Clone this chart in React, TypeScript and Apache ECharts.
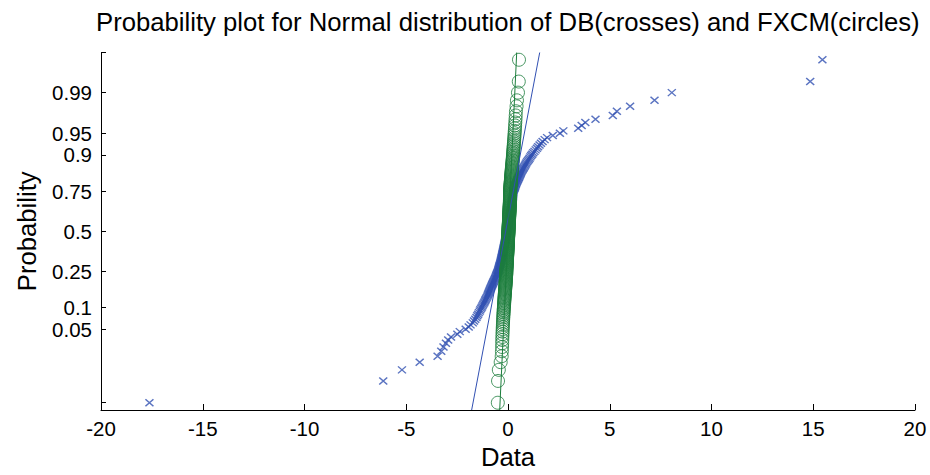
import React, { useEffect, useRef } from "react";
import * as echarts from "echarts";

// Sorted daily returns (%), one value per observation
const DB_SORTED = [
  -17.62, -6.13, -5.21, -4.34, -3.46, -3.28, -3.17, -3.05, -2.94, -2.8,
  -2.49, -2.37, -2.08, -1.93, -1.84, -1.73, -1.67, -1.61, -1.55, -1.51,
  -1.47, -1.43, -1.39, -1.36, -1.32, -1.28, -1.25, -1.22, -1.18, -1.15,
  -1.12, -1.1, -1.07, -1.04, -1.01, -0.99, -0.97, -0.95, -0.93, -0.91,
  -0.89, -0.87, -0.85, -0.83, -0.81, -0.79, -0.77, -0.75, -0.73, -0.71,
  -0.69, -0.67, -0.65, -0.63, -0.61, -0.6, -0.58, -0.57, -0.55, -0.54,
  -0.52, -0.51, -0.49, -0.48, -0.47, -0.46, -0.45, -0.44, -0.43, -0.42,
  -0.41, -0.4, -0.39, -0.38, -0.37, -0.36, -0.35, -0.345, -0.34, -0.33,
  -0.32, -0.315, -0.31, -0.3, -0.29, -0.285, -0.28, -0.27, -0.265, -0.26,
  -0.25, -0.245, -0.24, -0.23, -0.225, -0.22, -0.21, -0.205, -0.2, -0.19,
  -0.185, -0.18, -0.17, -0.165, -0.16, -0.155, -0.15, -0.14, -0.135, -0.13,
  -0.125, -0.12, -0.11, -0.105, -0.1, -0.095, -0.09, -0.08, -0.075, -0.07,
  -0.065, -0.06, -0.05, -0.045, -0.04, -0.035, -0.03, -0.02, -0.015, -0.01,
  -0.005, 0.0, 0.005, 0.01, 0.015, 0.02, 0.025, 0.03, 0.035, 0.04,
  0.045, 0.05, 0.055, 0.06, 0.065, 0.07, 0.075, 0.08, 0.085, 0.09,
  0.095, 0.1, 0.105, 0.11, 0.115, 0.12, 0.125, 0.13, 0.135, 0.14,
  0.145, 0.15, 0.155, 0.16, 0.165, 0.17, 0.175, 0.18, 0.185, 0.19,
  0.195, 0.2, 0.205, 0.21, 0.215, 0.22, 0.225, 0.23, 0.235, 0.24,
  0.243, 0.246, 0.249, 0.252, 0.255, 0.258, 0.26, 0.262, 0.27, 0.285,
  0.31, 0.32, 0.335, 0.35, 0.36, 0.375, 0.39, 0.4, 0.42, 0.44,
  0.46, 0.48, 0.5, 0.52, 0.54, 0.56, 0.58, 0.6, 0.62, 0.64,
  0.66, 0.69, 0.72, 0.75, 0.78, 0.81, 0.84, 0.87, 0.9, 0.94,
  0.98, 1.02, 1.06, 1.1, 1.14, 1.19, 1.24, 1.3, 1.36, 1.42,
  1.48, 1.55, 1.62, 1.7, 1.8, 1.92, 2.2, 2.55, 2.72, 3.45,
  3.62, 3.8, 4.3, 5.15, 5.35, 6.0, 7.2, 8.05, 14.85, 15.45,
];

const FXCM_SORTED = [
  -0.5, -0.49, -0.45, -0.36, -0.31, -0.3, -0.29, -0.286, -0.281, -0.276,
  -0.27, -0.266, -0.261, -0.256, -0.251, -0.246, -0.241, -0.236, -0.232, -0.227,
  -0.222, -0.218, -0.213, -0.209, -0.205, -0.2, -0.196, -0.192, -0.188, -0.184,
  -0.18, -0.176, -0.172, -0.168, -0.164, -0.16, -0.157, -0.153, -0.149, -0.146,
  -0.142, -0.139, -0.135, -0.132, -0.129, -0.125, -0.122, -0.119, -0.116, -0.113,
  -0.11, -0.107, -0.104, -0.101, -0.098, -0.096, -0.093, -0.09, -0.088, -0.086,
  -0.085, -0.084, -0.084, -0.082, -0.08, -0.078, -0.076, -0.074, -0.072, -0.07,
  -0.068, -0.066, -0.064, -0.062, -0.06, -0.058, -0.056, -0.055, -0.053, -0.051,
  -0.049, -0.047, -0.046, -0.044, -0.042, -0.04, -0.039, -0.037, -0.035, -0.034,
  -0.032, -0.03, -0.029, -0.027, -0.025, -0.024, -0.022, -0.02, -0.019, -0.017,
  -0.016, -0.014, -0.012, -0.011, -0.009, -0.008, -0.006, -0.004, -0.003, -0.001,
  0.0, 0.002, 0.003, 0.005, 0.006, 0.008, 0.009, 0.011, 0.012, 0.014,
  0.015, 0.017, 0.018, 0.02, 0.021, 0.023, 0.024, 0.026, 0.027, 0.029,
  0.03, 0.032, 0.033, 0.035, 0.036, 0.038, 0.039, 0.041, 0.042, 0.044,
  0.045, 0.047, 0.048, 0.05, 0.051, 0.053, 0.054, 0.056, 0.057, 0.059,
  0.06, 0.062, 0.063, 0.065, 0.066, 0.068, 0.07, 0.071, 0.073, 0.074,
  0.076, 0.077, 0.079, 0.08, 0.082, 0.083, 0.085, 0.086, 0.088, 0.089,
  0.091, 0.092, 0.093, 0.094, 0.095, 0.096, 0.097, 0.098, 0.099, 0.1,
  0.1, 0.101, 0.101, 0.102, 0.102, 0.103, 0.103, 0.104, 0.106, 0.108,
  0.11, 0.113, 0.116, 0.119, 0.122, 0.125, 0.128, 0.131, 0.134, 0.137,
  0.14, 0.143, 0.147, 0.15, 0.154, 0.158, 0.162, 0.166, 0.17, 0.174,
  0.178, 0.182, 0.186, 0.19, 0.195, 0.2, 0.205, 0.21, 0.215, 0.22,
  0.225, 0.23, 0.235, 0.24, 0.245, 0.25, 0.255, 0.26, 0.266, 0.272,
  0.278, 0.284, 0.29, 0.297, 0.304, 0.311, 0.318, 0.326, 0.334, 0.342,
  0.35, 0.36, 0.37, 0.38, 0.39, 0.42, 0.44, 0.49, 0.53, 0.54,
];

const TITLE = "Probability plot for Normal distribution of DB(crosses) and FXCM(circles)";
const X_NAME = "Data";
const Y_NAME = "Probability";
const X_MIN = -20;
const X_MAX = 20;
const X_STEP = 5;
// probability axis limits, in standard-normal quantile units
const Z_MIN = -3;
const Z_MAX = 3;
const PROB_LABELS = [0.05, 0.1, 0.25, 0.5, 0.75, 0.9, 0.95, 0.99];
const PROB_MARKS_ONLY = [0.002, 0.99865];

const DB_COLOR = "#3150b2";
const FXCM_COLOR = "#1c7d3c";
const FONT = "'Liberation Sans', Arial, sans-serif";

// Inverse standard normal CDF (Acklam's rational approximation)
function normInv(p: number): number {
  const a = [-3.969683028665376e1, 2.209460984245205e2, -2.759285104469687e2, 1.38357751867269e2, -3.066479806614716e1, 2.506628277459239];
  const b = [-5.447609879822406e1, 1.615858368580409e2, -1.556989798598866e2, 6.680131188771972e1, -1.328068155288572e1];
  const c = [-7.784894002430293e-3, -3.223964580411365e-1, -2.400758277161838, -2.549732539343734, 4.374664141464968, 2.938163982698783];
  const d = [7.784695709041462e-3, 3.224671290700398e-1, 2.445134137142996, 3.754408661907416];
  const pl = 0.02425;
  if (p < pl) {
    const q = Math.sqrt(-2 * Math.log(p));
    return (((((c[0] * q + c[1]) * q + c[2]) * q + c[3]) * q + c[4]) * q + c[5]) /
      ((((d[0] * q + d[1]) * q + d[2]) * q + d[3]) * q + 1);
  }
  if (p > 1 - pl) {
    const q = Math.sqrt(-2 * Math.log(1 - p));
    return -(((((c[0] * q + c[1]) * q + c[2]) * q + c[3]) * q + c[4]) * q + c[5]) /
      ((((d[0] * q + d[1]) * q + d[2]) * q + d[3]) * q + 1);
  }
  const q = p - 0.5;
  const r = q * q;
  return (((((a[0] * r + a[1]) * r + a[2]) * r + a[3]) * r + a[4]) * r + a[5]) * q /
    (((((b[0] * r + b[1]) * r + b[2]) * r + b[3]) * r + b[4]) * r + 1);
}

// (value, quantile of plotting position (i - 0.5) / n)
function probPoints(sorted: number[]): number[][] {
  const n = sorted.length;
  return sorted.map((v, i) => [v, normInv((i + 0.5) / n)]);
}

function percentile(sorted: number[], p: number): number {
  const n = sorted.length;
  const pos = n * p + 0.5; // 1-based
  const lo = Math.min(Math.max(Math.floor(pos), 1), n);
  const hi = Math.min(lo + 1, n);
  const f = pos - Math.floor(pos);
  return sorted[lo - 1] + f * (sorted[hi - 1] - sorted[lo - 1]);
}

// Reference line through the first and third quartiles
function quartileLine(sorted: number[]): number[][] {
  const q1 = percentile(sorted, 0.25);
  const q3 = percentile(sorted, 0.75);
  const z1 = normInv(0.25);
  const z3 = normInv(0.75);
  const slope = (q3 - q1) / (z3 - z1);
  const mid = (q1 + q3) / 2;
  return [
    [mid + slope * Z_MIN, Z_MIN],
    [mid + slope * Z_MAX, Z_MAX],
  ];
}

const CROSS = "path://M0 0L10 10M10 0L0 10";

export default function App() {
  const ref = useRef<HTMLDivElement>(null);

  useEffect(() => {
    if (!ref.current) return;
    const chart = echarts.init(ref.current, undefined, { renderer: "svg" });
    const labelZ = PROB_LABELS.map(normInv);
    const markZ = [...PROB_MARKS_ONLY.map(normInv), ...labelZ];

    chart.setOption({
      animation: false,
      backgroundColor: "#ffffff",
      title: {
        text: TITLE,
        left: 91,
        top: 4,
        textStyle: { fontFamily: FONT, fontSize: 25.7, fontWeight: "normal", color: "#000" },
      },
      grid: { left: 101, top: 52.5, width: 814, height: 358.5, containLabel: false },
      xAxis: {
        type: "value",
        min: X_MIN,
        max: X_MAX,
        interval: X_STEP,
        name: X_NAME,
        nameLocation: "middle",
        nameGap: 34,
        nameTextStyle: { fontFamily: FONT, fontSize: 25.7, color: "#000" },
        axisLine: { onZero: false, lineStyle: { color: "#000", width: 1 } },
        axisTick: { inside: true, length: 6, lineStyle: { color: "#000" } },
        axisLabel: { fontFamily: FONT, fontSize: 20.5, color: "#000", margin: 8 },
        splitLine: { show: false },
      },
      yAxis: {
        type: "value",
        min: Z_MIN,
        max: Z_MAX,
        name: Y_NAME,
        nameLocation: "middle",
        nameGap: 61,
        nameTextStyle: { fontFamily: FONT, fontSize: 25.7, color: "#000" },
        axisLine: { onZero: false, lineStyle: { color: "#000", width: 1 } },
        axisTick: { inside: true, length: 5, customValues: markZ, lineStyle: { color: "#000" } },
        axisLabel: {
          fontFamily: FONT,
          fontSize: 20.5,
          color: "#000",
          margin: 9,
          customValues: labelZ,
          formatter: (v: number) => {
            const i = labelZ.findIndex((z) => Math.abs(z - v) < 1e-6);
            return i >= 0 ? String(PROB_LABELS[i]) : "";
          },
        },
        splitLine: { show: false },
      },
      series: [
        {
          name: "DB",
          type: "scatter",
          data: probPoints(DB_SORTED),
          symbol: CROSS,
          symbolSize: [8, 7],
          itemStyle: { color: "transparent", borderColor: DB_COLOR, borderWidth: 1.4 },
          z: 2,
        },
        {
          name: "FXCM",
          type: "scatter",
          data: probPoints(FXCM_SORTED),
          symbol: "circle",
          symbolSize: 13,
          itemStyle: { color: "transparent", borderColor: FXCM_COLOR, borderWidth: 1 },
          z: 3,
        },
        {
          name: "DB fit",
          type: "line",
          data: quartileLine(DB_SORTED),
          symbol: "none",
          lineStyle: { color: DB_COLOR, width: 1 },
          clip: true,
          z: 4,
        },
        {
          name: "FXCM fit",
          type: "line",
          data: quartileLine(FXCM_SORTED),
          symbol: "none",
          lineStyle: { color: FXCM_COLOR, width: 1 },
          clip: true,
          z: 4,
        },
      ],
    });
    return () => chart.dispose();
  }, []);

  return (
    <div
      ref={ref}
      style={{ position: "fixed", left: 0, top: 0, width: 930, height: 475, background: "#fff" }}
    />
  );
}
